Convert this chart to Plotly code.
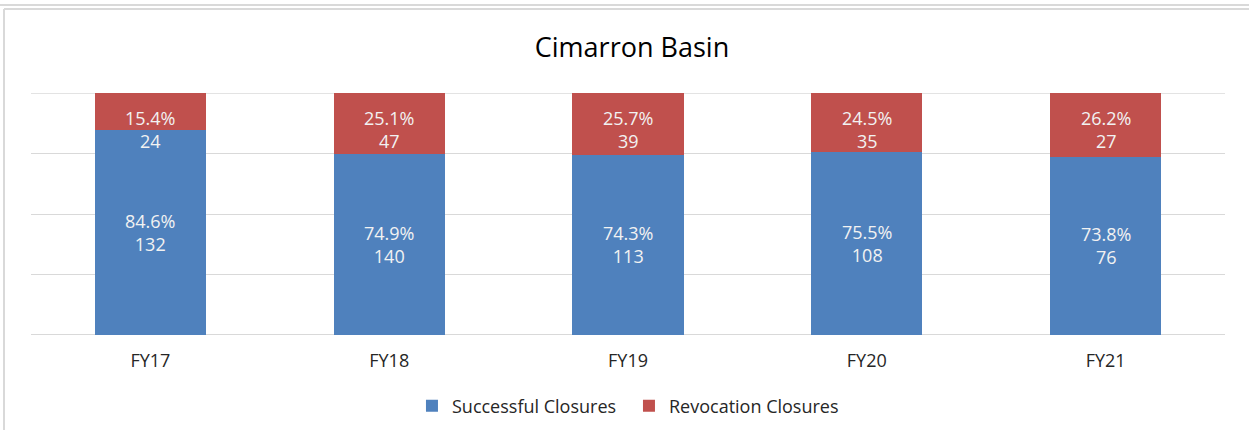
import plotly.graph_objects as go

categories = ["FY17", "FY18", "FY19", "FY20", "FY21"]
successful = [132, 140, 113, 108, 76]
revocation = [24, 47, 39, 35, 27]
series_names = ["Successful Closures", "Revocation Closures"]
colors = ["#4F81BD", "#C0504D"]

totals = [s + r for s, r in zip(successful, revocation)]
succ_pct = [100 * s / t for s, t in zip(successful, totals)]
rev_pct = [100 * r / t for r, t in zip(revocation, totals)]

W, H = 1249, 430
L, R, T, B = 31, 24, 93, 95
font = "Open Sans"

fig = go.Figure()
fig.add_trace(go.Bar(x=categories, y=succ_pct, name=series_names[0],
                     marker=dict(color=colors[0], line=dict(width=0)),
                     hoverinfo="skip"))
fig.add_trace(go.Bar(x=categories, y=rev_pct, name=series_names[1],
                     marker=dict(color=colors[1], line=dict(width=0)),
                     hoverinfo="skip"))

annotations = []
for c, s, sp, r, rp in zip(categories, successful, succ_pct, revocation, rev_pct):
    annotations.append(dict(x=c, y=sp / 2, xref="x", yref="y",
                            text=f"{sp:.1f}%<br>{s}", showarrow=False,
                            font=dict(family=font, size=18, color="#F2F2F2")))
    annotations.append(dict(x=c, y=85, xref="x", yref="y",
                            text=f"{rp:.1f}%<br>{r}", showarrow=False,
                            font=dict(family=font, size=18, color="#F2F2F2")))

pw = W - L - R
ph = H - T - B
def px(xp):
    return (xp - L) / pw
def py(yp):
    return (H - B - yp) / ph

shapes = [
    dict(type="line", xref="paper", yref="paper", x0=px(0), x1=px(W), y0=py(5), y1=py(5),
         line=dict(color="#D9D9D9", width=2)),
    dict(type="line", xref="paper", yref="paper", x0=px(4), x1=px(W), y0=py(9), y1=py(9),
         line=dict(color="#D9D9D9", width=2)),
    dict(type="line", xref="paper", yref="paper", x0=px(4), x1=px(4), y0=py(9), y1=py(H + 5),
         line=dict(color="#D9D9D9", width=2)),
    dict(type="line", xref="paper", yref="y", x0=0, x1=1, y0=100, y1=100, layer="below",
         line=dict(color="#D9D9D9", width=1)),
]

fig.update_layout(
    width=W, height=H,
    autosize=False,
    margin=dict(l=L, r=R, t=T, b=B, pad=0, autoexpand=False),
    barmode="stack",
    bargap=0.535,
    paper_bgcolor="white",
    plot_bgcolor="white",
    title=dict(text="Cimarron Basin", xref="paper", x=px(632), xanchor="center",
               yref="container", y=1 - 48 / H, yanchor="middle",
               font=dict(family=font, size=27, color="#000000")),
    xaxis=dict(showgrid=False, showline=False, ticks="", zeroline=False, automargin=False,
               tickfont=dict(family=font, size=18, color="#262626"), ticklabelstandoff=13),
    yaxis=dict(range=[-0.1, 100.1], tickvals=[0, 25, 50, 75, 100], showticklabels=False,
               automargin=False,
               showgrid=True, gridcolor="#D9D9D9", gridwidth=1,
               zeroline=True, zerolinecolor="#D9D9D9", zerolinewidth=1, showline=False),
    legend=dict(orientation="h", x=0.505 - 5 / pw, xanchor="center",
                yref="container", y=1 - 406 / H, yanchor="middle",
                font=dict(family=font, size=18, color="#262626"), traceorder="normal",
                itemwidth=30, entrywidth=172, entrywidthmode="pixels"),
    annotations=annotations,
    shapes=shapes,
    showlegend=True,
)

fig.write_html("out.html", config={"displayModeBar": False, "responsive": False},
               post_script="document.body.style.margin='0px';document.body.style.overflow='hidden';")
